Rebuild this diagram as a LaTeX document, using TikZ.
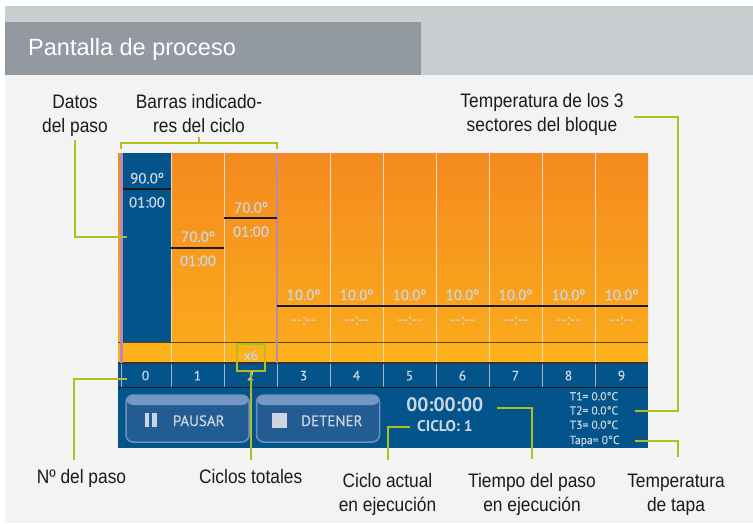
\documentclass[tikz,border=0pt]{standalone}
\usepackage{fontspec}
\setmainfont{Liberation Sans}
\newfontfamily\lblfont[FakeStretch=0.89]{Liberation Sans}
\newfontfamily\scrfont[FakeBold=0.5]{PT Sans}
\newfontfamily\scrbold{PT Sans Bold}
\definecolor{bgLight}{HTML}{F3F3F3}
\definecolor{bandGray}{HTML}{C8CDD0}
\definecolor{titleGray}{HTML}{9299A0}
\definecolor{orTop}{HTML}{F58A1F}
\definecolor{orBot}{HTML}{FBA91C}
\definecolor{yelBand}{HTML}{FDB21B}
\definecolor{scrBlue}{HTML}{03548A}
\definecolor{btnBody}{HTML}{235C92}
\definecolor{btnTop}{HTML}{7398C5}
\definecolor{btnEdge}{HTML}{6E92BE}
\definecolor{scrText}{HTML}{CCD6E2}
\definecolor{calloutC}{HTML}{B4BC1E}
\definecolor{purp}{HTML}{B58AB5}
\definecolor{lblText}{HTML}{1A1A1A}
\definecolor{divOr}{HTML}{F2DCC4}
\definecolor{divBl}{HTML}{9AB2CA}
\definecolor{brLine}{HTML}{5E4520}
\newcommand\twolines[2]{\begin{tabular}[t]{@{}c@{}}#1\\#2\end{tabular}}
\tikzset{
  lbl/.style={font=\lblfont\fontsize{19.5}{24}\selectfont, text=lblText, inner sep=0pt, anchor=base},
  scr/.style={font=\scrfont\fontsize{15}{17}\selectfont, text=scrText, inner sep=0pt, anchor=base},
  scrnum/.style={font=\scrfont\fontsize{13.5}{15}\selectfont, text=scrText, inner sep=0pt, anchor=base},
  tread/.style={font=\scrfont\fontsize{11.6}{13}\selectfont, text=scrText, inner sep=0pt, anchor=base west},
  callout/.style={draw=calloutC, line width=2pt},
  bartop/.style={draw=black!90, line width=2pt},
  btnbox/.style={draw=btnEdge, line width=1.5pt, fill=btnBody, rounded corners=7pt,
    minimum width=123pt, minimum height=47pt, inner sep=0pt,
    path picture={\fill[btnTop] (path picture bounding box.north west) rectangle ([yshift=-10pt]path picture bounding box.north east);}},
  icon/.style={fill=scrText}
}
\begin{document}
\begin{tikzpicture}[x=1pt,y=-1pt]
\useasboundingbox (0,0) rectangle (753,523);
\fill[white] (0,0) rectangle (753,523);
\fill[bgLight] (5,75) rectangle (753,523);
\fill[bandGray] (5,6) rectangle (753,75);
\fill[titleGray] (5,22) rectangle (421,75);
\node[font=\fontsize{23.5}{28}\selectfont, text=white, inner sep=0pt, anchor=base west] (title) at (28,55.5) {Pantalla de proceso};

% screen
\fill[scrBlue] (118,363) rectangle (648,448);
\shade[top color=orTop, bottom color=orBot] (118,153) rectangle (648,342);
\fill[yelBand] (118,342) rectangle (648,363);
\fill[scrBlue] (123,153) rectangle (171,342);
\foreach \x in {171,224,330,383,436,489,542,595} \draw[divOr, line width=0.9pt] (\x,153) -- (\x,363);
\foreach \x in {121.5,171,224,277,330,383,436,489,542,595} \draw[divBl, line width=0.9pt] (\x,363) -- (\x,387);
\draw[brLine, line width=1pt] (118,342) -- (648,342);
\draw[black!80, line width=1.2pt] (118,363) -- (648,363);
\draw[black!90, line width=1.2pt] (118,387.5) -- (648,387.5);
\draw[purp, line width=2.5pt] (121.5,153) -- (121.5,363);
\draw[purp, line width=2.5pt] (277,153) -- (277,363);

% bar tops
\draw[bartop] (123,189) -- (171,189);
\draw[bartop] (171,247.7) -- (224,247.7);
\draw[bartop] (224,218.3) -- (277,218.3);
\draw[bartop] (277,305.7) -- (648,305.7);

% bar texts
\node[scr] (v0) at (147,183.5) {90.0º};
\node[scr] (d0) at (147,207.5) {01:00};
\node[scr] (v1) at (198,242) {70.0º};
\node[scr] (d1) at (198,266) {01:00};
\node[scr] (v2) at (251,212.8) {70.0º};
\node[scr] (d2) at (251,236.8) {01:00};
\foreach \c/\x in {3/303.5,4/356.5,5/409.5,6/462.5,7/515.5,8/568.5,9/621.5}{
  \node[scr] (v\c) at (\x,300.2) {10.0º};
  \node[scr] (d\c) at (\x,324.5) {-{}-:-{}-};
}
% step numbers
\foreach \c/\x in {0/145.5,1/197.5,2/250.5,3/303.5,4/356.5,5/409.5,6/462.5,7/515.5,8/568.5,9/621.5}{
  \node[scrnum] (n\c) at (\x,380.3) {\c};
}
\node[scrnum] (x6) at (251,360) {x6};
\node[callout, minimum width=28pt, minimum height=27pt, inner sep=0pt] (x6box) at (251,357) {};

% buttons
\node[btnbox] (btnPausa) at (187.5,418.5) {};
\node[btnbox] (btnDetener) at (318,418.5) {};
\fill[icon] (145,413) rectangle (149.3,427);
\fill[icon] (152.3,413) rectangle (156.7,427);
\fill[icon] (272,413) rectangle (286.7,427.7);
\node[scr, anchor=base west] (tPausa) at (172.7,426) {PAUSAR};
\node[scr, anchor=base west] (tDetener) at (301,426) {DETENER};
\node[scr, font=\scrbold\fontsize{19.5}{22}\selectfont] (clock) at (444.7,411.7) {00:00:00};
\node[scr, font=\scrbold\fontsize{15.5}{18}\selectfont] (ciclo) at (445,431.7) {CICLO: 1};
\node[tread] (tr1) at (569.5,400.3) {T1= 0.0°C};
\node[tread] (tr2) at (569.5,414.5) {T2= 0.0°C};
\node[tread] (tr3) at (569.5,428.8) {T3= 0.0°C};
\node[tread] (tr4) at (569.5,444) {Tapa= 0°C};

% labels
\node[lbl] (lDatos) at (75,108.3) {\twolines{Datos}{del paso}};
\node[lbl] (lBarras) at (199,108.3) {\twolines{Barras indicado-}{res del ciclo}};
\node[lbl] (lTemp) at (542,107.5) {\twolines{Temperatura de los 3}{sectores del bloque}};
\node[lbl] (lPaso) at (81.5,483.3) {Nº del paso};
\node[lbl] (lCiclos) at (250.7,483.3) {Ciclos totales};
\node[lbl] (lActual) at (387.5,487) {\twolines{Ciclo actual}{en ejecución}};
\node[lbl] (lTiempo) at (532,487) {\twolines{Tiempo del paso}{en ejecución}};
\node[lbl] (lTapa) at (676,487) {\twolines{Temperatura}{de tapa}};

% callout coordinates
\coordinate (cDatosA) at (75,140);
\coordinate (cDatosB) at (75,237.3);
\coordinate (cDatosC) at (126.5,237.3);
\coordinate (cBrL) at (120.7,148.5);
\coordinate (cBrR) at (277,148.5);
\coordinate (cBrM) at (199.3,143);
\coordinate (cBrT) at (199.3,136.5);
\coordinate (cTempA) at (634,116.7);
\coordinate (cTempB) at (677.7,116.7);
\coordinate (cTempC) at (677.7,411);
\coordinate (cTempD) at (635,411);
\coordinate (cPasoA) at (74,460);
\coordinate (cPasoB) at (74,379);
\coordinate (cPasoC) at (127,379);
\coordinate (cCicA) at (251,460);
\coordinate (cActA) at (387.7,460);
\coordinate (cActB) at (387.7,427);
\coordinate (cActC) at (410,427);
\coordinate (cTiA) at (496.7,408.3);
\coordinate (cTiB) at (531.7,408.3);
\coordinate (cTiC) at (531.7,459.3);
\coordinate (cTapA) at (635,441);
\coordinate (cTapB) at (678,441);
\coordinate (cTapC) at (678,457);

\draw[callout] (cDatosA) -- (cDatosB) -- (cDatosC);
\draw[callout] (cBrL) |- (cBrM) -| (cBrR);
\draw[callout] (cBrM) -- (cBrT);
\draw[callout] (cTempA) -- (cTempB) -- (cTempC) -- (cTempD);
\draw[callout] (cPasoA) -- (cPasoB) -- (cPasoC);
\draw[callout] (x6box.south) -- (cCicA);
\draw[callout] (cActA) -- (cActB) -- (cActC);
\draw[callout] (cTiA) -- (cTiB) -- (cTiC);
\draw[callout] (cTapA) -- (cTapB) -- (cTapC);
\end{tikzpicture}
\end{document}
